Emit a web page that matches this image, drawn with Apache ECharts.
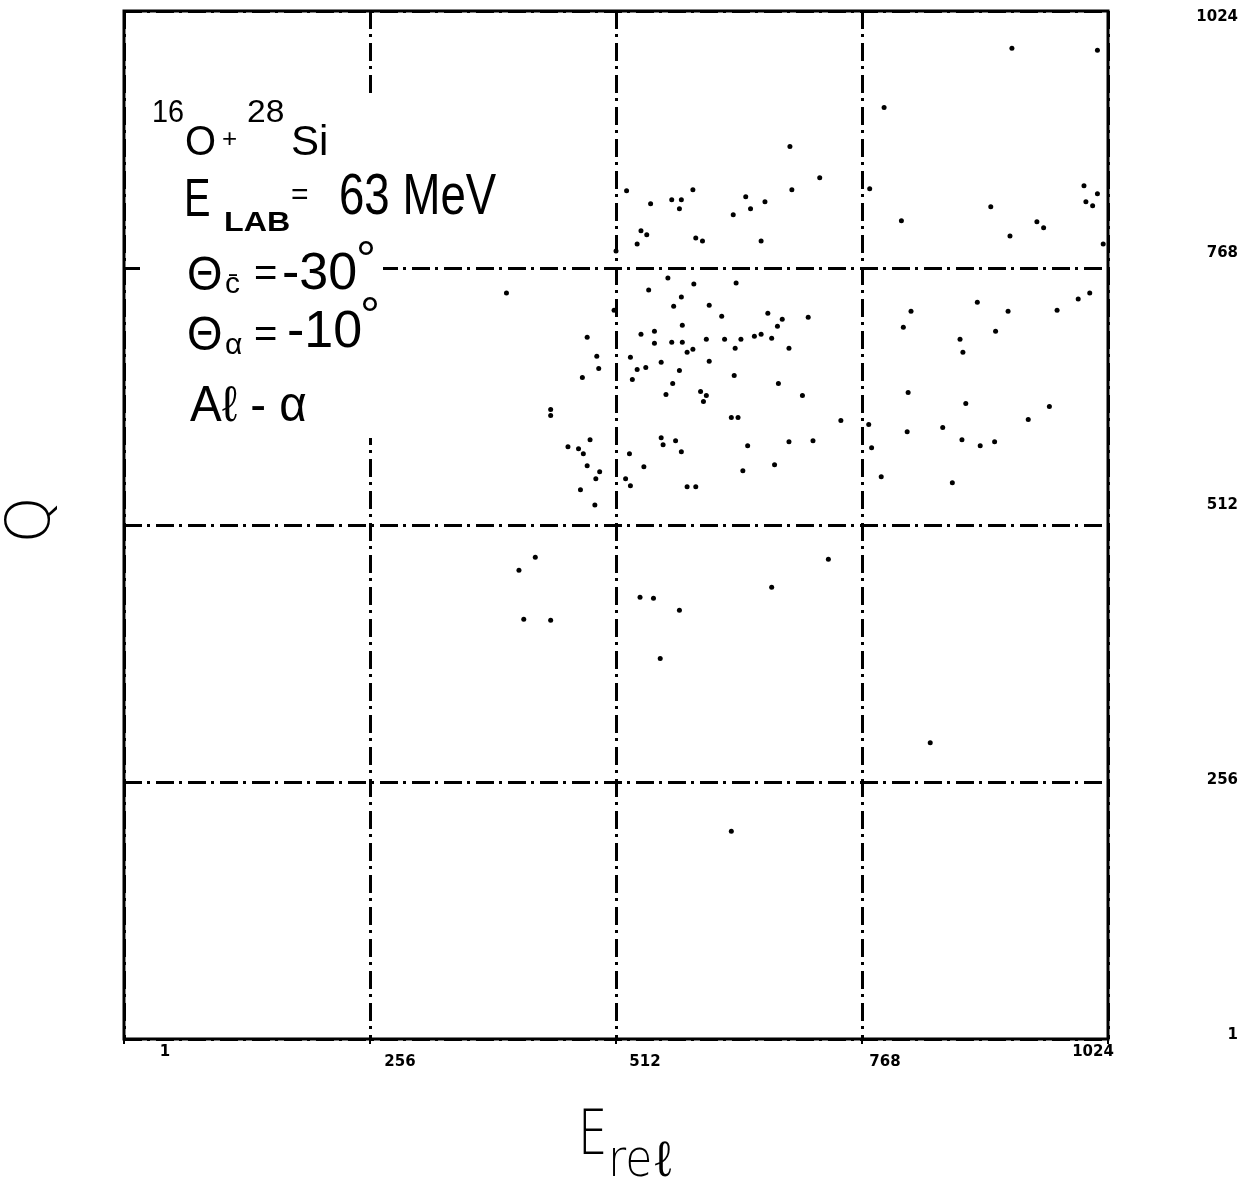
<!DOCTYPE html>
<html><head><meta charset="utf-8">
<script src="https://cdn.jsdelivr.net/npm/echarts@6/dist/echarts.min.js"></script>
<style>html,body{margin:0;padding:0;background:#fff}#c{width:1258px;height:1184px}</style>
</head><body><div id="c"></div>
<script>
// ---- data (channel numbers) ----
const erel = [791,693,724,523,592,695,776,548,570,580,578,647,652,667,634,809,538,544,534,595,602,663,512,566,546,593,637,580,398,
  924,1013,999,1013,1001,1008,902,950,957,922,1019,1005,993,
  572,609,510,622,670,685,712,581,680,482,552,538,552,570,581,606,625,642,656,663,674,636,692,592,586,492,527,559,609,494,534,543,578,
  477,529,635,571,681,564,600,606,603,706,444,444,632,639,746,775,485,462,473,478,559,561,574,580,526,649,692,717,778,
  482,495,541,644,677,491,522,527,586,595,788,475,490,
  888,819,920,971,811,907,870,873,816,876,963,941,852,815,872,906,891,862,
  428,411,733,674,537,551,578,416,444,558,632,839];
const qval = [928,889,858,845,846,846,847,832,836,836,827,839,827,834,821,815,805,801,792,798,795,795,785,758,746,752,753,739,743,
  987,985,850,842,834,830,829,814,808,800,792,743,737,
  730,731,726,720,723,717,719,711,710,699,705,702,693,694,694,697,697,697,700,702,698,688,688,687,684,680,679,674,675,668,667,669,666,
  659,657,661,653,653,642,645,641,635,641,627,621,619,619,616,612,597,590,588,583,599,592,596,585,583,591,595,596,589,
  571,565,570,566,572,558,558,551,550,550,560,547,532,
  734,725,725,726,709,705,697,684,644,633,630,617,609,605,597,595,591,554,
  480,467,478,450,440,439,427,418,417,379,207,295];
const xTickLabels = ['1','256','512','768','1024'];
const yTickLabels = ['1','256','512','768','1024'];

// ---- layout / style ----
const dashDot = [18,5,3,6];
const xShift = [41,30,29,23,-15], xDrop = [0,10,10,10,0];
const yShift = [-4,-2,-20,-15,6];
const labelFont = {fontFamily:'DejaVu Sans', fontWeight:'bold', fontSize:15, color:'#000'};
function richX(){const r={};xShift.forEach((d,i)=>{r['t'+i]=Object.assign({},labelFont,{padding:[xDrop[i], d<0?-2*d:0, 0, d>0?2*d:0]});});return r;}
function richY(){const r={};yShift.forEach((d,i)=>{r['t'+i]=Object.assign({},labelFont,{padding:[d>0?2*d:0,0,d<0?-2*d:0,0]});});return r;}

function T(text,x,y,size,sx,o){o=o||{};return {type:'text',x:x,y:y,scaleX:sx,scaleY:o.sy||1,rotation:o.rot||0,z:101,
  style:{text:text,font:(o.weight||'normal')+' '+size+'px '+(o.family||'"Liberation Sans"'),fill:'#000',align:o.align||'left',verticalAlign:'middle'}};}

const chart = echarts.init(document.getElementById('c'));
chart.setOption({
  animation:false,
  backgroundColor:'#fff',
  grid:{left:124,right:150,top:11,bottom:145,show:true,borderColor:'#000',borderWidth:3,backgroundColor:'transparent'},
  xAxis:{type:'value',min:0,max:1024,interval:256,
    axisLine:{show:false},
    axisTick:{show:true,length:5,lineStyle:{color:'#000',width:2}},
    splitLine:{show:true,lineStyle:{color:'#000',width:3,type:dashDot}},
    axisLabel:{margin:6,formatter:function(v){const i=Math.round(v/256);return '{t'+i+'|'+xTickLabels[i]+'}';},rich:richX()}},
  yAxis:{type:'value',min:0,max:1024,interval:256,position:'right',
    axisLine:{show:false},axisTick:{show:false},
    splitLine:{show:true,lineStyle:{color:'#000',width:3,type:dashDot}},
    axisLabel:{margin:130,align:'right',formatter:function(v){const i=Math.round(v/256);return '{t'+i+'|'+yTickLabels[i]+'}';},rich:richY()}},
  series:[{type:'scatter',data:erel.map((x,i)=>[x,qval[i]]),symbol:'circle',symbolSize:5,itemStyle:{color:'#000',opacity:1},z:3}],
  graphic:[
    {type:'rect',z:100,shape:{x:140,y:93,width:243,height:345},style:{fill:'#fff'}},
    T('16',152,113,32,0.9),
    T('O',185,143,42,0.95),
    T('+',222,140,26,1),
    T('28',247,113,32,1.05),
    T('Si',291,143,42,1),
    T('E',184,201,53,0.75),
    T('LAB',224,223,28,1.15,{weight:'bold'}),
    T('=',291,196,30,1),
    T('63 MeV',339,198,57,0.8),
    T('Θ',187,277,48,0.95),
    T('c̄',225,285,30,1),
    T('=',254,275,40,1),
    T('-30',282,275,52,1),
    T('°',356,262,50,1),
    T('Θ',187,337,48,0.95),
    T('α',225,346,30,1),
    T('=',254,336,40,1),
    T('-10',287,333,52,1),
    T('°',360,318,50,1),
    T('Aℓ - α',190,407,50,0.95),
    T('Q',33,520,60,1,{rot:Math.PI/2,align:'center',family:'"DejaVu Sans"',weight:'200'}),
    T('E',578,1138,62,0.75,{family:'"DejaVu Sans"',weight:'200'}),
    T('reℓ',608,1162,52,0.85,{family:'"DejaVu Sans"',weight:'200'})
  ]
});
</script></body></html>
